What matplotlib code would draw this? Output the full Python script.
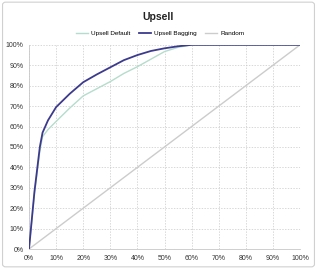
import matplotlib
matplotlib.use("Agg")
import matplotlib.pyplot as plt
from matplotlib.patches import FancyBboxPatch
from matplotlib.ticker import PercentFormatter

x = [0, 2, 4, 5, 7, 10, 15, 20, 25, 30, 35, 40, 45, 50, 55, 60, 70, 80, 90, 100]
bagging = [0, 28, 50, 57, 63, 69.5, 76, 81.7, 85.5, 89, 92.5, 95, 97, 98.3, 99.3, 100, 100, 100, 100, 100]
default = [0, 27, 48, 55, 58.5, 62.5, 69, 75, 78.5, 82, 86, 89.3, 93, 96.7, 98.8, 100, 100, 100, 100, 100]
random_x = [0, 100]
random_y = [0, 100]
ticks = list(range(0, 101, 10))

plt.rcParams["font.family"] = ["Liberation Sans", "DejaVu Sans"]

fig = plt.figure(figsize=(3.17, 2.69), dpi=100)
fig.patch.set_facecolor("white")
border = FancyBboxPatch((0.008, 0.008), 0.984, 0.984, boxstyle="round,pad=0,rounding_size=0.01",
                        transform=fig.transFigure, facecolor="none", edgecolor="#d0d0d0",
                        linewidth=0.8, zorder=-5)
fig.patches.append(border)

ax = fig.add_axes([0.0915, 0.0743, 0.855, 0.759])
ax.patch.set_alpha(0)
ax.plot(x, default, color="#b5dccd", lw=1.0, label="Upsell Default", zorder=3)
ax.plot(x, bagging, color="#3c3a8c", lw=1.3, label="Upsell Bagging", zorder=4)
ax.plot(random_x, random_y, color="#cccccc", lw=1.0, label="Random", zorder=2)

ax.set_xlim(0, 100)
ax.set_ylim(0, 100)
ax.set_xticks(ticks)
ax.set_yticks(ticks)
ax.xaxis.set_major_formatter(PercentFormatter(decimals=0))
ax.yaxis.set_major_formatter(PercentFormatter(decimals=0))
ax.tick_params(labelsize=5, length=0, pad=4, colors="#333333")
ax.grid(True, color="#c8c8c8", linestyle=(0, (2, 2)), linewidth=0.5)
for s in ["top", "right"]:
    ax.spines[s].set_visible(False)
for s in ["left", "bottom"]:
    ax.spines[s].set_color("#c8c8c8")
    ax.spines[s].set_linewidth(0.6)

fig.suptitle("Upsell", x=0.5, y=0.955, fontsize=7.5, fontweight="bold", color="#222222")
fig.legend(loc="center", bbox_to_anchor=(0.505, 0.875), ncol=3, frameon=False, fontsize=4.6,
           handlelength=1.9, columnspacing=1.4, handletextpad=0.4)

fig.savefig("out.png", dpi=100)
